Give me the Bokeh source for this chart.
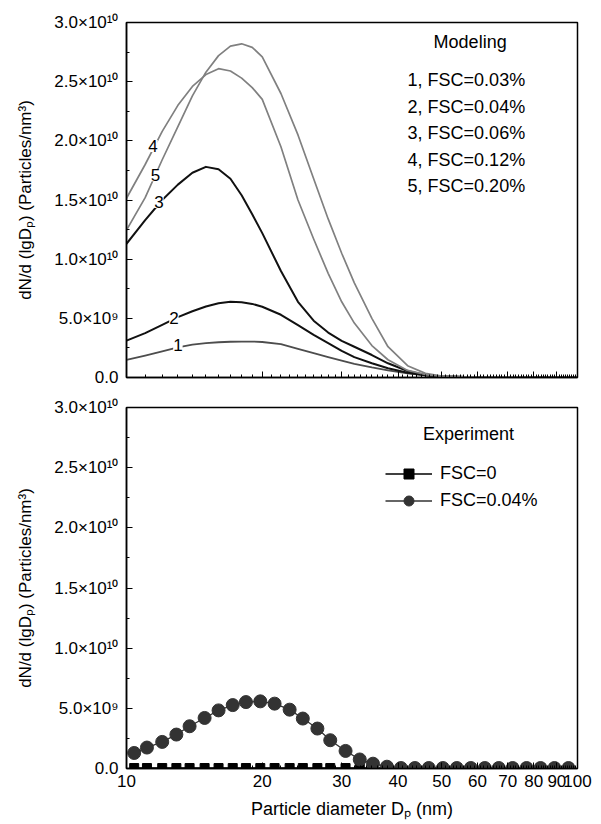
from bokeh.plotting import figure
from bokeh.layouts import column
from bokeh.models import (Range1d, FixedTicker, Label, Legend, LegendItem,
                          CustomLabelingPolicy)
from bokeh.embed import file_html
from bokeh.resources import INLINE

FONT = "Liberation Sans"

# ---------------- data ----------------
# Modeling panel: particle diameter (nm)
diam_model = [10, 11, 12, 13, 14, 15, 16, 17, 18, 19, 20, 22, 24, 26, 28, 30, 32,
              35, 38, 42, 46, 50, 60, 70, 80, 90, 100]
# dN/d(lgDp) (particles/nm^3) for each FSC
fsc_003 = [1.49e9, 1.85e9, 2.20e9, 2.55e9, 2.78e9, 2.90e9, 2.98e9, 3.02e9, 3.04e9, 3.04e9,
           3.00e9, 2.82e9, 2.42e9, 2.05e9, 1.72e9, 1.42e9, 1.16e9, 0.85e9, 0.60e9, 0.35e9,
           0.18e9, 0.09e9, 0.02e9, 0.005e9, 0.0, 0.0, 0.0]
fsc_004 = [3.12e9, 3.75e9, 4.45e9, 5.10e9, 5.60e9, 6.00e9, 6.28e9, 6.40e9, 6.36e9, 6.22e9,
           5.98e9, 5.30e9, 4.42e9, 3.60e9, 2.90e9, 2.25e9, 1.72e9, 1.20e9, 0.78e9, 0.40e9,
           0.18e9, 0.08e9, 0.015e9, 0.004e9, 0.0, 0.0, 0.0]
fsc_006 = [11.3e9, 13.3e9, 15.0e9, 16.3e9, 17.3e9, 17.8e9, 17.6e9, 16.8e9, 15.4e9, 13.8e9,
           12.2e9, 9.0e9, 6.4e9, 4.8e9, 3.8e9, 3.1e9, 2.6e9, 1.9e9, 1.2e9, 0.55e9,
           0.22e9, 0.09e9, 0.015e9, 0.004e9, 0.0, 0.0, 0.0]
fsc_012 = [15.15e9, 18.0e9, 20.8e9, 23.0e9, 24.6e9, 25.6e9, 26.1e9, 25.9e9, 25.3e9, 24.5e9,
           23.5e9, 19.5e9, 15.0e9, 11.7e9, 8.8e9, 6.4e9, 4.6e9, 2.7e9, 1.5e9, 0.6e9,
           0.25e9, 0.1e9, 0.02e9, 0.005e9, 0.0, 0.0, 0.0]
fsc_020 = [12.45e9, 15.2e9, 18.4e9, 21.2e9, 23.8e9, 25.8e9, 27.2e9, 28.0e9, 28.2e9, 27.9e9,
           27.1e9, 24.0e9, 20.5e9, 16.8e9, 13.4e9, 10.5e9, 8.0e9, 5.0e9, 2.6e9, 1.0e9,
           0.35e9, 0.12e9, 0.02e9, 0.005e9, 0.0, 0.0, 0.0]
model_names = ["1", "2", "3", "4", "5"]
model_legend = ["1, FSC=0.03%", "2, FSC=0.04%", "3, FSC=0.06%", "4, FSC=0.12%", "5, FSC=0.20%"]

# Experiment panel
diam_exp = [10.4, 11.1, 12.0, 12.9, 13.8, 14.9, 16.0, 17.2, 18.4, 19.8, 21.3, 23.0, 24.6,
            26.5, 28.3, 30.6, 32.9, 35.2, 37.8, 40.6, 43.6, 46.8, 50.3, 54.0, 58.0, 62.3,
            66.9, 71.8, 77.1, 82.8, 88.9, 95.5]
exp_fsc0 = [0.04e9] * 32
exp_fsc004 = [1.29e9, 1.74e9, 2.21e9, 2.82e9, 3.51e9, 4.20e9, 4.83e9, 5.27e9, 5.52e9, 5.58e9,
              5.39e9, 4.89e9, 4.15e9, 3.32e9, 2.35e9, 1.46e9, 0.75e9, 0.40e9, 0.15e9, 0.04e9,
              0.04e9, 0.04e9, 0.04e9, 0.04e9, 0.04e9, 0.04e9, 0.04e9, 0.04e9, 0.04e9, 0.04e9,
              0.04e9, 0.04e9]
exp_legend = ["FSC=0", "FSC=0.04%"]

# ticks
x_ticks = [10, 20, 30, 40, 50, 60, 70, 80, 90, 100]
x_tick_labels = ["10", "20", "30", "40", "50", "60", "70", "80", "90", "100"]
y_ticks = [0, 5e9, 1e10, 1.5e10, 2e10, 2.5e10, 3e10]
y_tick_labels = ["0.0", "5.0×10⁹", "1.0×10¹⁰", "1.5×10¹⁰", "2.0×10¹⁰", "2.5×10¹⁰", "3.0×10¹⁰"]
y_title = "dN/d (lgDₚ) (Particles/nm³)"
x_title = "Particle diameter Dₚ (nm)"

x_minor = [d for d in range(11, 100) if d % 10 != 0]
y_minor = [y_ticks[i] + (y_ticks[i + 1] - y_ticks[i]) / 2 for i in range(len(y_ticks) - 1)]


def make_fig(height, top, bottom, left, right, show_x_labels):
    p = figure(width=601, height=height, x_axis_type="log",
               x_range=Range1d(10, 100), y_range=Range1d(0, 3e10),
               output_backend="svg", toolbar_location=None,
               min_border_left=left, min_border_right=right,
               min_border_top=top, min_border_bottom=bottom)
    p.grid.visible = False
    p.background_fill_color = "white"
    p.border_fill_color = "white"
    p.outline_line_color = "black"
    p.outline_line_width = 1.5
    for ax in (p.xaxis, p.yaxis):
        ax.axis_line_width = 1.5
        ax.axis_line_color = "black"
        ax.major_tick_in = 6
        ax.major_tick_out = 0
        ax.minor_tick_in = 3
        ax.minor_tick_out = 0
        ax.major_tick_line_color = "black"
        ax.minor_tick_line_color = "black"
        ax.major_label_text_font = FONT
        ax.major_label_text_font_size = "17px"
        ax.major_label_text_color = "black"
        ax.axis_label_text_font = FONT
        ax.axis_label_text_font_size = "17px"
        ax.axis_label_text_font_style = "normal"
        ax.axis_label_text_color = "black"
    p.xaxis.ticker = FixedTicker(ticks=x_ticks, minor_ticks=x_minor)
    p.yaxis.ticker = FixedTicker(ticks=y_ticks, minor_ticks=y_minor)
    p.yaxis.major_label_overrides = {float(t): s for t, s in zip(y_ticks, y_tick_labels)}
    p.yaxis.major_label_standoff = 8
    p.yaxis.axis_label = y_title
    p.yaxis.axis_label_standoff = 16
    if show_x_labels:
        p.xaxis.major_label_overrides = {float(t): s for t, s in zip(x_ticks, x_tick_labels)}
        p.xaxis.major_label_standoff = 6
        p.xaxis.axis_label = x_title
        p.xaxis.axis_label_text_font_size = "18px"
        p.xaxis.axis_label_standoff = 9
    else:
        p.xaxis.major_label_policy = CustomLabelingPolicy(code="return new Set()")
        p.xaxis.major_label_standoff = 0
    return p


# ---------------- top: modeling ----------------
p1 = make_fig(392, 22, 14, 124, 23, False)
series = [fsc_003, fsc_004, fsc_006, fsc_012, fsc_020]
colors = ["#4d4d4d", "#111111", "#111111", "#808080", "#808080"]
widths = [1.8, 2.0, 2.0, 1.7, 1.7]
for ys, c, w in zip(series, colors, widths):
    p1.line(diam_model, ys, line_color=c, line_width=w, line_join="round")

# curve number labels (annotation positions)
num_pos = [(13.0, 2.76e9), (12.74, 5.0e9), (11.8, 1.484e10), (11.45, 1.957e10), (11.6, 1.71e10)]
for name, (lx, ly) in zip(model_names, num_pos):
    p1.add_layout(Label(x=lx, y=ly, text=name, text_align="center", text_baseline="middle",
                        text_font=FONT, text_font_size="17px", text_color="black",
                        background_fill_color="white"))

p1.add_layout(Label(x=57.8, y=2.831e10, text="Modeling", text_align="center",
                    text_baseline="middle", text_font=FONT, text_font_size="18px",
                    text_color="black"))
leg_y = [2.511e10, 2.283e10, 2.064e10, 1.836e10, 1.617e10]
for txt, ly in zip(model_legend, leg_y):
    p1.add_layout(Label(x=42.0, y=ly, text=txt, text_align="left", text_baseline="middle",
                        text_font=FONT, text_font_size="18px", text_color="black"))

# ---------------- bottom: experiment ----------------
p2 = make_fig(432, 15, 56, 126, 24, True)
l0 = p2.line(diam_exp, exp_fsc0, line_color="black", line_width=1.5)
s0 = p2.scatter(diam_exp, exp_fsc0, marker="square", size=9, fill_color="black",
                line_color="black")
l1 = p2.line(diam_exp, exp_fsc004, line_color="#333333", line_width=1.3)
s1 = p2.scatter(diam_exp, exp_fsc004, marker="circle", size=13, fill_color="#333333",
                line_color="#333333")

legend = Legend(items=[LegendItem(label=exp_legend[0], renderers=[l0, s0]),
                       LegendItem(label=exp_legend[1], renderers=[l1, s1])],
                location=(259, 255), glyph_width=47, glyph_height=25, label_height=25,
                spacing=2, padding=0, margin=0, border_line_color=None,
                background_fill_alpha=0, label_text_font=FONT, label_text_font_size="18px",
                label_standoff=8, label_text_color="black")
p2.add_layout(legend)
p2.add_layout(Label(x=57.3, y=2.78e10, text="Experiment", text_align="center",
                    text_baseline="middle", text_font=FONT, text_font_size="18px",
                    text_color="black"))

layout = column(p1, p2, spacing=0)
open("out.html", "w").write(file_html(layout, INLINE))
